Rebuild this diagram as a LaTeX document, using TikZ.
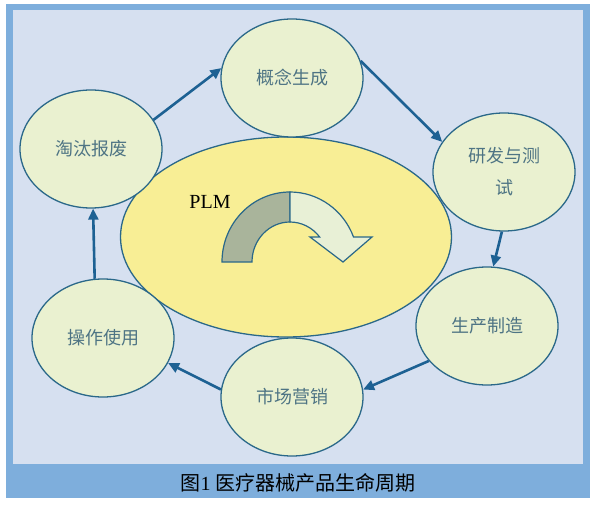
\documentclass[tikz,border=0pt]{standalone}
\usepackage{fontspec}
\setmainfont{Liberation Serif}
\newfontfamily\cjk{Noto Sans CJK SC}
\usetikzlibrary{arrows.meta,shapes.geometric}
\definecolor{frameblue}{HTML}{7EAEDC}
\definecolor{panel}{HTML}{D6E0F0}
\definecolor{edge}{HTML}{2A6889}
\definecolor{stagefill}{HTML}{EAF1D0}
\definecolor{corefill}{HTML}{F8EE95}
\definecolor{flowblue}{HTML}{1D6193}
\definecolor{labeltext}{HTML}{4E7484}
\definecolor{bowdark}{HTML}{A9B49B}
\definecolor{bowlight}{HTML}{E8F0D6}

\begin{document}
\begin{tikzpicture}[x=1pt,y=1pt,
  stage/.style={ellipse,draw=edge,line width=1.3pt,fill=stagefill,minimum width=142pt,minimum height=118pt,
    inner sep=0pt,text=labeltext,font=\cjk\fontsize{18}{32}\selectfont,align=center},
  flow/.style={-{Triangle[length=11pt,width=10pt]},line width=2.6pt,draw=flowblue}]
  \useasboundingbox (0,0) rectangle (600,507);
  % frame and caption
  \fill[frameblue] (6,9) rectangle (590,503);
  \fill[panel] (13,43) rectangle (583,497);
  \node (title) at (298,24) {\fontsize{20}{24}\selectfont{\cjk 图}1 {\cjk 医疗器械产品生命周期}};
  % PLM core
  \node[ellipse,draw=edge,line width=1.3pt,fill=corefill,minimum width=331pt,minimum height=200pt] (core) at (286,270) {};
  \node (plm) at (210,305) {\fontsize{20}{24}\selectfont PLM};
  \filldraw[draw=edge,line width=1.2pt,fill=bowdark] (222,245) arc[start angle=180,end angle=90,x radius=68pt,y radius=70pt]
    -- (290,285) arc[start angle=90,end angle=180,x radius=38pt,y radius=40pt] -- cycle;
  \filldraw[draw=edge,line width=1.2pt,fill=bowlight] (290,315) arc[start angle=90,end angle=20.9,x radius=68pt,y radius=70pt]
    -- (372,270) -- (343,245) -- (310,270) -- (319.65,270)
    arc[start angle=38.7,end angle=90,x radius=38pt,y radius=40pt] -- cycle;
  % stages
  \node[stage] (concept) at (292,429) {概念生成};
  \node[stage] (rnd) at (504,335) {研发与测\\试};
  \node[stage] (make) at (487,181) {生产制造};
  \node[stage] (market) at (292,110) {市场营销};
  \node[stage] (use) at (103,169) {操作使用};
  \node[stage] (scrap) at (91,358) {淘汰报废};
  % cycle
  \draw[flow] (scrap.25) -- (concept.172);
  \draw[flow] (concept.14) -- (rnd.154);
  \draw[flow] (rnd.268) -- (make.84);
  \draw[flow] (make.211) -- (market.6);
  \draw[flow] (market.174) -- (use.339);
  \draw[flow] (use.98) -- (scrap.272);
\end{tikzpicture}
\end{document}
